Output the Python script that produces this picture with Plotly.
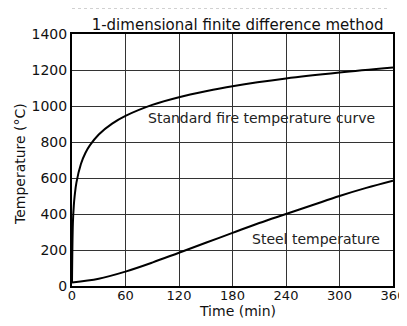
import plotly.graph_objects as go

# Standard fire temperature curve
fire_time = [0, 1, 2, 3, 5, 10, 15, 20, 30, 45, 60, 90, 120, 150, 180, 240, 300, 360]
fire_temp = [20, 349, 445, 502, 576, 678, 739, 781, 842, 902, 945, 1006, 1049, 1082, 1110, 1153, 1186, 1214]

# Steel temperature
steel_time = [0, 30, 60, 90, 120, 150, 180, 210, 240, 270, 300, 330, 360]
steel_temp = [20, 40, 80, 130, 185, 240, 295, 350, 400, 450, 500, 545, 585]

x_ticks = [0, 60, 120, 180, 240, 300, 360]
y_ticks = [0, 200, 400, 600, 800, 1000, 1200, 1400]

FONT = "DejaVu Sans, sans-serif"

fig = go.Figure()
fig.add_trace(go.Scatter(x=fire_time, y=fire_temp, mode="lines",
                         line=dict(color="black", width=2, shape="spline"), showlegend=False))
fig.add_trace(go.Scatter(x=steel_time, y=steel_temp, mode="lines",
                         line=dict(color="black", width=2, shape="spline"), showlegend=False))

fig.add_annotation(x=213, y=931, text="Standard fire temperature curve", showarrow=False,
                   font=dict(size=14, color="#222", family=FONT))
fig.add_annotation(x=274, y=261, text="Steel temperature", showarrow=False,
                   font=dict(size=14, color="#222", family=FONT))

# axis titles
fig.add_annotation(x=186, xref="x", y=-0.1, yref="paper", text="Time (min)", showarrow=False,
                   font=dict(size=14, color="#111", family=FONT), yanchor="middle")
fig.add_annotation(x=-0.162, xref="paper", y=0.484, yref="paper", text="Temperature (°C)", showarrow=False,
                   textangle=-90, font=dict(size=14, color="#111", family=FONT), xanchor="center")

# faint dotted remnant line at the top of the scan
fig.add_shape(type="line", xref="paper", yref="paper", x0=0.0, x1=0.985, y0=1.103, y1=1.103,
              line=dict(color="#aaa", width=1, dash="dot"))

fig.update_layout(
    width=407, height=326,
    margin=dict(l=64, r=22, t=26, b=48),
    paper_bgcolor="white", plot_bgcolor="white",
    font=dict(family=FONT, size=14, color="#111"),
    title=dict(text="1-dimensional finite difference method", x=0.564, xanchor="center",
               y=0.95, yanchor="middle", font=dict(size=15, family=FONT, color="#111")),
)
fig.update_xaxes(range=[0, 360], tickvals=x_ticks, ticks="", showgrid=True,
                 gridcolor="#333", gridwidth=1,
                 showline=True, linecolor="black", linewidth=2, mirror=True, zeroline=False,
                 automargin=False, tickfont=dict(size=13), ticklabelstandoff=-4)
fig.update_yaxes(range=[0, 1400], tickvals=y_ticks, ticks="", showgrid=True, gridcolor="#333", gridwidth=1,
                 showline=True, linecolor="black", linewidth=2, mirror=True, zeroline=False,
                 automargin=False, tickfont=dict(size=14))

fig.write_html("out.html")
